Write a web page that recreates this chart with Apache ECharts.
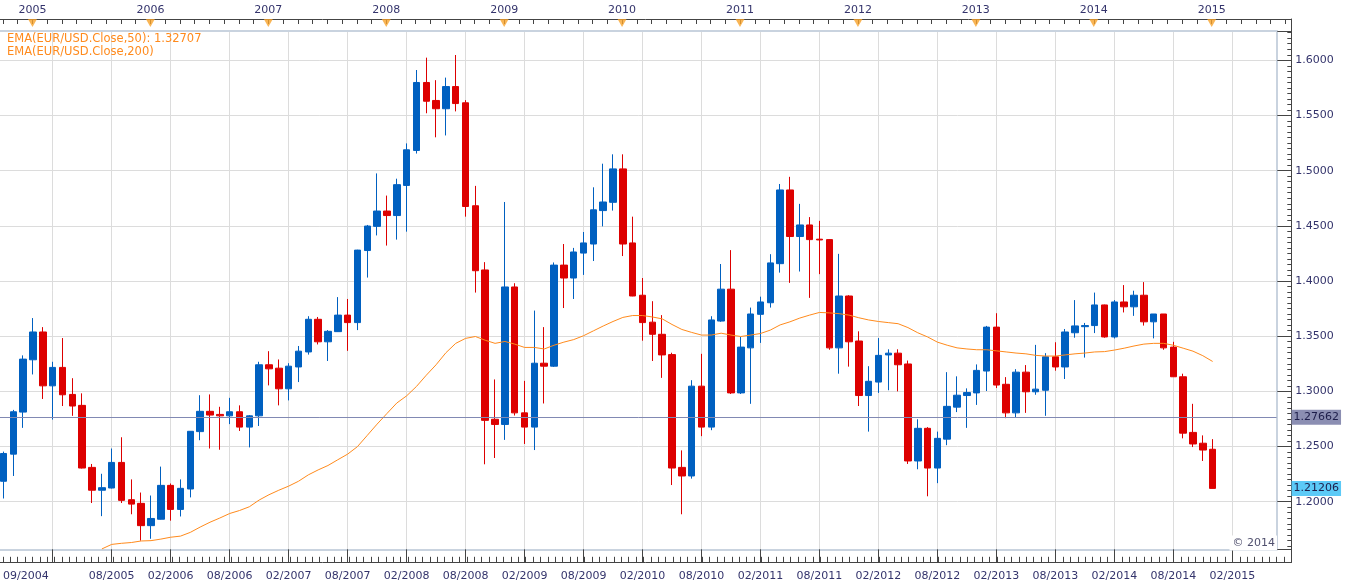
<!DOCTYPE html>
<html>
<head>
<meta charset="utf-8">
<title>EUR/USD monthly</title>
<script src="https://cdn.jsdelivr.net/npm/echarts@6/dist/echarts.min.js"></script>
<style>
  html, body { margin: 0; padding: 0; background: #fff; }
  #main { width: 1349px; height: 588px; }
</style>
</head>
<body>
<div id="main"></div>
<script type="text/javascript">
// monthly candles from 09/2004, [open, close, low, high]
const candles = [
  [1.2185, 1.2437, 1.2029, 1.2454], [1.2431, 1.2815, 1.2233, 1.2832], [1.2812, 1.3292, 1.2669, 1.3326],
  [1.3286, 1.3538, 1.3153, 1.3664], [1.3538, 1.3050, 1.2931, 1.3582], [1.3050, 1.3217, 1.2744, 1.3268],
  [1.3217, 1.2969, 1.2867, 1.3483], [1.2972, 1.2867, 1.2778, 1.3119], [1.2873, 1.2305, 1.2301, 1.2982],
  [1.2311, 1.2104, 1.1988, 1.2342], [1.2104, 1.2127, 1.1869, 1.2253], [1.2124, 1.2356, 1.2120, 1.2482],
  [1.2356, 1.2012, 1.1988, 1.2584], [1.2018, 1.1978, 1.1886, 1.2202], [1.1985, 1.1783, 1.1647, 1.2083],
  [1.1783, 1.1848, 1.1664, 1.2056], [1.1841, 1.2148, 1.1838, 1.2318], [1.2148, 1.1930, 1.1828, 1.2165],
  [1.1930, 1.2121, 1.1866, 1.2202], [1.2115, 1.2638, 1.2039, 1.2640], [1.2635, 1.2819, 1.2557, 1.2965],
  [1.2819, 1.2785, 1.2482, 1.2972], [1.2791, 1.2778, 1.2471, 1.2860], [1.2778, 1.2815, 1.2703, 1.2941],
  [1.2815, 1.2676, 1.2641, 1.2873], [1.2676, 1.2778, 1.2492, 1.2785], [1.2778, 1.3241, 1.2686, 1.3268],
  [1.3241, 1.3204, 1.3054, 1.3364], [1.3210, 1.3023, 1.2873, 1.3289], [1.3023, 1.3228, 1.2918, 1.3255],
  [1.3221, 1.3364, 1.3084, 1.3411], [1.3357, 1.3653, 1.3333, 1.3681], [1.3653, 1.3449, 1.3425, 1.3674],
  [1.3449, 1.3544, 1.3275, 1.3555], [1.3541, 1.3691, 1.3538, 1.3854], [1.3691, 1.3623, 1.3367, 1.3837],
  [1.3623, 1.4280, 1.3555, 1.4283], [1.4276, 1.4498, 1.4031, 1.4508], [1.4495, 1.4634, 1.4413, 1.4975],
  [1.4634, 1.4593, 1.4321, 1.4774], [1.4593, 1.4873, 1.4375, 1.4927], [1.4866, 1.5189, 1.4447, 1.5247],
  [1.5183, 1.5799, 1.5155, 1.5912], [1.5799, 1.5629, 1.5520, 1.6024], [1.5636, 1.5561, 1.5302, 1.5820],
  [1.5561, 1.5762, 1.5319, 1.5843], [1.5762, 1.5608, 1.5537, 1.6048], [1.5615, 1.4675, 1.4583, 1.5639],
  [1.4682, 1.4093, 1.3895, 1.4862], [1.4100, 1.2737, 1.2339, 1.4171], [1.2747, 1.2700, 1.2396, 1.3108],
  [1.2700, 1.3946, 1.2560, 1.4716], [1.3946, 1.2805, 1.2781, 1.3980], [1.2805, 1.2676, 1.2523, 1.3095],
  [1.2676, 1.3255, 1.2468, 1.3732], [1.3255, 1.3228, 1.2890, 1.3582], [1.3228, 1.4144, 1.3221, 1.4168],
  [1.4144, 1.4027, 1.3755, 1.4335], [1.4027, 1.4263, 1.3837, 1.4300], [1.4253, 1.4345, 1.4055, 1.4444],
  [1.4335, 1.4645, 1.4181, 1.4849], [1.4638, 1.4716, 1.4495, 1.5063], [1.4713, 1.5016, 1.4638, 1.5148],
  [1.5016, 1.4335, 1.4226, 1.5148], [1.4345, 1.3864, 1.3862, 1.4583], [1.3871, 1.3623, 1.3459, 1.4027],
  [1.3627, 1.3517, 1.3275, 1.3817], [1.3517, 1.3330, 1.3122, 1.3691], [1.3333, 1.2305, 1.2151, 1.3350],
  [1.2311, 1.2233, 1.1886, 1.2465], [1.2233, 1.3047, 1.2209, 1.3101], [1.3047, 1.2676, 1.2594, 1.3340],
  [1.2676, 1.3647, 1.2648, 1.3681], [1.3637, 1.3926, 1.3630, 1.4154], [1.3926, 1.2986, 1.2976, 1.4280],
  [1.2986, 1.3401, 1.2976, 1.3493], [1.3394, 1.3701, 1.2887, 1.3759], [1.3698, 1.3810, 1.3439, 1.3858],
  [1.3803, 1.4164, 1.3759, 1.4243], [1.4157, 1.4825, 1.4076, 1.4879], [1.4825, 1.4403, 1.3983, 1.4944],
  [1.4403, 1.4508, 1.4086, 1.4699], [1.4508, 1.4375, 1.3847, 1.4579], [1.4379, 1.4372, 1.4062, 1.4545],
  [1.4375, 1.3394, 1.3377, 1.4379], [1.3394, 1.3864, 1.3160, 1.4246], [1.3864, 1.3449, 1.3224, 1.3871],
  [1.3456, 1.2962, 1.2867, 1.3544], [1.2962, 1.3091, 1.2635, 1.3228], [1.3084, 1.3326, 1.2986, 1.3483],
  [1.3330, 1.3346, 1.3010, 1.3381], [1.3346, 1.3241, 1.3000, 1.3381], [1.3248, 1.2369, 1.2342, 1.3279],
  [1.2369, 1.2665, 1.2294, 1.2747], [1.2665, 1.2305, 1.2049, 1.2676], [1.2305, 1.2574, 1.2168, 1.2635],
  [1.2567, 1.2864, 1.2512, 1.3174], [1.2857, 1.2965, 1.2812, 1.3136], [1.2962, 1.2989, 1.2669, 1.3027],
  [1.2986, 1.3190, 1.2877, 1.3244], [1.3184, 1.3582, 1.3003, 1.3593], [1.3582, 1.3057, 1.3030, 1.3708],
  [1.3064, 1.2805, 1.2757, 1.3129], [1.2805, 1.3174, 1.2761, 1.3201], [1.3174, 1.2996, 1.2805, 1.3238],
  [1.2996, 1.3020, 1.2969, 1.3421], [1.3010, 1.3313, 1.2778, 1.3346], [1.3313, 1.3221, 1.3187, 1.3445],
  [1.3221, 1.3538, 1.3112, 1.3565], [1.3531, 1.3593, 1.3486, 1.3827], [1.3586, 1.3596, 1.3306, 1.3620],
  [1.3596, 1.3783, 1.3528, 1.3895], [1.3783, 1.3493, 1.3486, 1.3786], [1.3493, 1.3810, 1.3479, 1.3827],
  [1.3810, 1.3766, 1.3715, 1.3963], [1.3766, 1.3871, 1.3684, 1.3912], [1.3871, 1.3630, 1.3596, 1.3990],
  [1.3630, 1.3701, 1.3480, 1.3701], [1.3701, 1.3394, 1.3377, 1.3701], [1.3401, 1.3132, 1.3132, 1.3449],
  [1.3132, 1.2621, 1.2574, 1.3160], [1.2628, 1.2523, 1.2495, 1.2887], [1.2530, 1.2468, 1.2369, 1.2601],
  [1.2475, 1.21206, 1.21206, 1.2567]
];

// EMA(50) per month, no value for the first ten months
const ema50 = [
  null, null, null, null, null, null, null, null, null, null,
  1.1572, 1.1613, 1.1623, 1.1630, 1.1644, 1.1647, 1.1661, 1.1678, 1.1688, 1.1722,
  1.1770, 1.1814, 1.1852, 1.1893, 1.1920, 1.1954, 1.2015, 1.2063, 1.2104, 1.2141,
  1.2185, 1.2243, 1.2288, 1.2328, 1.2380, 1.2431, 1.2499, 1.2601, 1.2703, 1.2799,
  1.2894, 1.2959, 1.3044, 1.3146, 1.3241, 1.3350, 1.3435, 1.3480, 1.3497, 1.3463,
  1.3435, 1.3452, 1.3428, 1.3398, 1.3398, 1.3384, 1.3418, 1.3446, 1.3469, 1.3504,
  1.3548, 1.3592, 1.3633, 1.3670, 1.3687, 1.3687, 1.3674, 1.3657, 1.3606, 1.3561,
  1.3534, 1.3510, 1.3510, 1.3527, 1.3510, 1.3497, 1.3510, 1.3524, 1.3555, 1.3602,
  1.3630, 1.3664, 1.3691, 1.3715, 1.3711, 1.3704, 1.3691, 1.3667, 1.3647, 1.3633,
  1.3623, 1.3613, 1.3578, 1.3531, 1.3493, 1.3446, 1.3418, 1.3394, 1.3384, 1.3377,
  1.3377, 1.3367, 1.3357, 1.3347, 1.3340, 1.3326, 1.3320, 1.3320, 1.3330, 1.3340,
  1.3347, 1.3357, 1.3360, 1.3374, 1.3391, 1.3411, 1.3428, 1.3435, 1.3435, 1.3418,
  1.3391, 1.3364, 1.3323, 1.32707
];

const ema200 = [];

const lastPrice = 1.27662;
const lastClose = 1.21206;

const firstMonthLabel = '09/2004';
const bottomTickLabels = ['08/2005', '02/2006', '08/2006', '02/2007', '08/2007', '02/2008', '08/2008',
  '02/2009', '08/2009', '02/2010', '08/2010', '02/2011', '08/2011', '02/2012', '08/2012', '02/2013',
  '08/2013', '02/2014', '08/2014', '02/2015'];
const yearLabels = ['2005', '2006', '2007', '2008', '2009', '2010', '2011', '2012', '2013', '2014', '2015'];

const FONT = 'DejaVu Sans';
const NAVY = '#34346c';
const AXIS = '#444';
const BORDER = '#c9d3df';
const GRIDLINE = '#dcdcdc';
const UP = '#0060c0';
const DOWN = '#dd0000';
const ORANGE = '#ff8a1c';

const myChart = echarts.init(document.getElementById('main'));

// axis that only draws its line
function lineAxis(grid, pos, color, width) {
  return {
    type: 'value', gridIndex: grid, position: pos, min: 0, max: 1,
    axisLine: { show: true, onZero: false, lineStyle: { color: color, width: width } },
    axisTick: { show: false }, axisLabel: { show: false }, splitLine: { show: false }
  };
}

const option = {
  animation: false,
  textStyle: { fontFamily: FONT },
  title: {
    text: 'EMA(EUR/USD.Close,50): ' + ema50[ema50.length - 1].toFixed(5) + '\nEMA(EUR/USD.Close,200)',
    left: 7, top: 32, padding: 0,
    textStyle: { fontSize: 11.5, fontWeight: 'normal', color: ORANGE, lineHeight: 13.3, fontFamily: FONT }
  },
  grid: [
    { left: 0, top: 31, width: 1276.55, height: 518.3 },     // 0 plot area
    { left: 0, top: 19, width: 1291.3, height: 543.3 },      // 1 outer frame
    { left: 2.5, top: 19, width: 1288.8, height: 10 },       // 2 top scale, 1.5 month steps
    { left: 1.1, top: 31, width: 1290.2, height: 518.3 },    // 3 bottom minor ticks, 0.75 month steps
    { left: 52.72, top: 31, width: 1238.58, height: 518.3 }  // 4 bottom major ticks, 6 month steps
  ],
  xAxis: [
    // 0 month index axis of the plot; its line is the bottom border
    { type: 'value', gridIndex: 0, min: -0.363, max: 129.5,
      axisLine: { show: true, onZero: false, lineStyle: { color: BORDER, width: 2 } },
      axisTick: { show: false }, axisLabel: { show: false }, splitLine: { show: false } },
    // 1 top border of the plot
    Object.assign(lineAxis(0, 'top', BORDER, 2), { min: -0.363, max: 129.5 }),
    // 2, 3 frame lines
    lineAxis(1, 'bottom', AXIS, 1),
    lineAxis(1, 'top', AXIS, 1),
    // 4 year scale on top
    { type: 'value', gridIndex: 2, position: 'top', min: 0, max: 87.4, interval: 1,
      axisLine: { show: false, onZero: false },
      axisTick: { show: true, inside: true, length: 5, lineStyle: { color: AXIS } },
      axisLabel: { show: true, margin: 3, color: NAVY, fontSize: 11, fontFamily: FONT,
        showMaxLabel: false,
        formatter: (v) => { const k = (v - 2) / 8; return (Number.isInteger(k) && k >= 0 && k < yearLabels.length) ? yearLabels[k] : ''; } },
      splitLine: { show: false } },
    // 5 bottom minor ticks
    { type: 'value', gridIndex: 3, position: 'bottom', offset: 13, min: 0, max: 175, interval: 1,
      axisLine: { show: false, onZero: false },
      axisTick: { show: true, inside: true, length: 5.5, lineStyle: { color: AXIS } },
      axisLabel: { show: true, align: 'left', margin: 8, color: NAVY, fontSize: 11, fontFamily: FONT,
        formatter: (v) => v === 0 ? firstMonthLabel : '' },
      splitLine: { show: false } },
    // 6 bottom major ticks + vertical grid lines
    { type: 'value', gridIndex: 4, position: 'bottom', offset: 13, min: 0, max: 21, interval: 1,
      axisLine: { show: false, onZero: false },
      axisTick: { show: true, inside: true, length: 13, lineStyle: { color: AXIS } },
      axisLabel: { show: true, margin: 8, color: NAVY, fontSize: 11, fontFamily: FONT,
        formatter: (v) => (v >= 1 && v <= bottomTickLabels.length) ? bottomTickLabels[v - 1] : '' },
      splitLine: { show: true, showMinLine: true, showMaxLine: false, lineStyle: { color: GRIDLINE, width: 1 } } }
  ],
  yAxis: [
    // 0 price axis
    { type: 'value', gridIndex: 0, position: 'right', offset: 14.75,
      min: 1.15686, max: 1.62655, splitNumber: 9,
      axisLine: { show: false, onZero: false },
      axisTick: { show: true, inside: true, length: 14, lineStyle: { color: AXIS } },
      minorTick: { show: true, splitNumber: 10, length: 4, lineStyle: { color: AXIS } },
      axisLabel: { show: true, margin: 4, color: NAVY, fontSize: 11, fontFamily: FONT,
        showMinLabel: false, showMaxLabel: false, formatter: (v) => v.toFixed(4) },
      splitLine: { show: true, showMinLine: false, showMaxLine: false, lineStyle: { color: GRIDLINE, width: 1 } } },
    // 1 right border of the plot
    Object.assign(lineAxis(0, 'right', BORDER, 2), { min: 1.15686, max: 1.62655 }),
    // 2 right frame line
    lineAxis(1, 'right', AXIS, 1),
    // 3, 4, 5 placeholders
    { type: 'value', gridIndex: 2, min: 0, max: 1, show: false },
    { type: 'value', gridIndex: 3, min: 0, max: 1, show: false },
    { type: 'value', gridIndex: 4, min: 0, max: 1, show: false }
  ],
  series: [
    {
      name: 'EUR/USD', type: 'candlestick', xAxisIndex: 0, yAxisIndex: 0,
      data: candles.map((c, i) => [i].concat(c)),
      encode: { x: 0, y: [1, 2, 3, 4] },
      barWidth: 7,
      itemStyle: { color: UP, color0: DOWN, borderColor: UP, borderColor0: DOWN, borderWidth: 1 },
      markLine: {
        silent: true, symbol: 'none', animation: false, precision: 5,
        data: [
          { yAxis: lastPrice, lineStyle: { color: '#8189b3', width: 1, type: 'solid' },
            label: { show: true, position: 'end', distance: 15, formatter: () => lastPrice.toFixed(5),
              backgroundColor: '#8b8eb2', color: '#1d1d4a', fontSize: 11, fontFamily: FONT,
              padding: [2, 2, 1, 2], lineHeight: 12 } },
          { yAxis: lastClose, lineStyle: { color: 'rgba(0,0,0,0)', width: 1, type: 'solid' },
            label: { show: true, position: 'end', distance: 15, formatter: () => lastClose.toFixed(5),
              backgroundColor: '#5ccaf7', color: '#1d1d4a', fontSize: 11, fontFamily: FONT,
              padding: [2, 2, 1, 2], lineHeight: 12 } }
        ]
      }
    },
    {
      name: 'EMA(EUR/USD.Close,50)', type: 'line', xAxisIndex: 0, yAxisIndex: 0,
      data: ema50.map((v, i) => [i, v]).filter((p) => p[1] != null),
      showSymbol: false, z: 3,
      lineStyle: { color: ORANGE, width: 1 }
    },
    {
      name: 'EMA(EUR/USD.Close,200)', type: 'line', xAxisIndex: 0, yAxisIndex: 0,
      data: ema200, showSymbol: false, lineStyle: { color: ORANGE, width: 1 }
    },
    {
      // year markers on the top scale
      name: 'years', type: 'scatter', xAxisIndex: 4, yAxisIndex: 3,
      data: yearLabels.map((_, k) => [2 + 8 * k, 0.6]),
      symbol: 'triangle', symbolRotate: 180, symbolSize: [9, 8],
      itemStyle: { color: '#f7a32b' }, silent: true, clip: false
    }
  ],
  graphic: [
    { type: 'text', x: 1277, y: 543, z: 10,
      style: { text: '\u00a9 2014', align: 'right', verticalAlign: 'middle', fill: '#50506e',
        font: '11px "DejaVu Sans"', backgroundColor: '#fff', padding: [2, 2, 2, 3] } }
  ]
};

myChart.setOption(option);
</script>
</body>
</html>
